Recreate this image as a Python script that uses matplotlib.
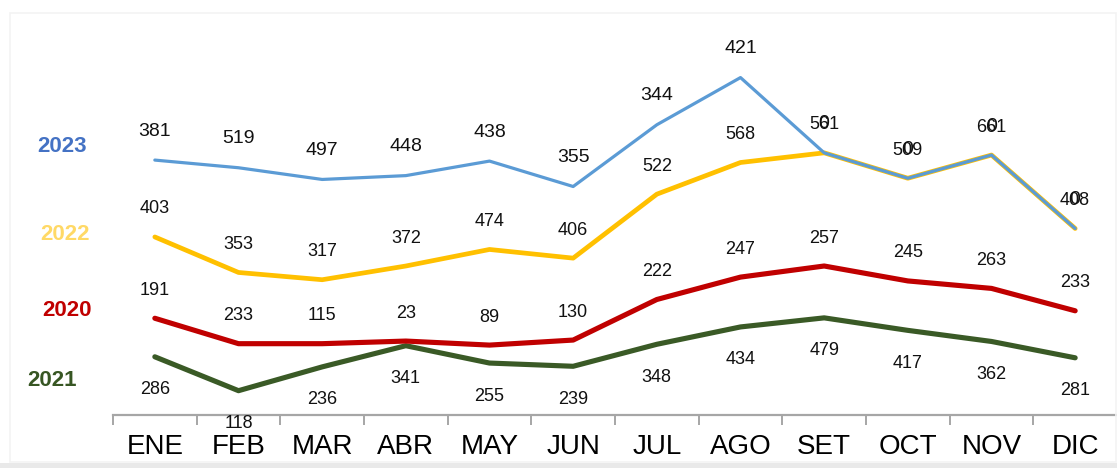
"""
Stacked line chart of monthly counts per year (2020-2023)
"""
import numpy as np
import matplotlib
matplotlib.use('Agg')
from matplotlib import pyplot as plt
from matplotlib.patches import Rectangle

months = ['ENE', 'FEB', 'MAR', 'ABR', 'MAY', 'JUN',
          'JUL', 'AGO', 'SET', 'OCT', 'NOV', 'DIC']
years = ['2021', '2020', '2022', '2023']  # stacking order, bottom first
values_2021 = [286, 118, 236, 341, 255, 239, 348, 434, 479, 417, 362, 281]
values_2020 = [191, 233, 115, 23, 89, 130, 222, 247, 257, 245, 263, 233]
values_2022 = [403, 353, 317, 372, 474, 406, 522, 568, 561, 509, 661, 408]
values_2023 = [381, 519, 497, 448, 438, 355, 344, 421, 0, 0, 0, 0]

FONT = ['Liberation Sans Narrow', 'Liberation Sans', 'DejaVu Sans']


def draw_chart(series):
    """
    Draws the stacked lines, data labels and year names

    @param series list of (year, values) from bottom to top
    """
    plt.rcParams['font.family'] = FONT
    fig = plt.figure(figsize=(11.17, 4.68), dpi=100)
    W, H = 1117, 468

    # faint frame and bottom shadow like the source slide
    fig.patches.append(Rectangle((10 / W, 6 / H), 1106 / W, 449 / H,
                                 transform=fig.transFigure, fill=False,
                                 edgecolor='#F3F3F3', lw=1.2))
    fig.patches.append(Rectangle((0, 0), 1, 5 / H, transform=fig.transFigure,
                                 facecolor='#E9E9E9', edgecolor='none'))

    ax = fig.add_axes([113 / W, (H - 414.5) / H, 1004 / W, 401.5 / H])
    ax.set_xlim(-0.5, 11.5)
    ax.set_ylim(0, 1990)
    x = np.arange(len(months))

    styles = {
        '2021': dict(color='#3A5A26', lw=3.7, off=-33, size=13),
        '2020': dict(color='#C00000', lw=3.7, off=28, size=13),
        '2022': dict(color='#FFC000', lw=3.4, off=28, size=13),
        '2023': dict(color='#5B9BD5', lw=2.3, off=29, size=14),
    }
    base = np.zeros(len(months))
    for year, vals in series:
        st = styles[year]
        top = base + np.array(vals)
        ax.plot(x, top, color=st['color'], lw=st['lw'],
                solid_joinstyle='round', solid_capstyle='round', clip_on=False)
        for xi, yi, v in zip(x, top, vals):
            ax.annotate(str(v), (xi, yi), xytext=(0, st['off']),
                        textcoords='offset pixels', ha='center', va='center',
                        fontsize=st['size'], color='#111111')
        base = top

    # year names on the left
    names = {'2023': ('#4472C4', 62, 146), '2022': ('#FFD966', 65, 234),
             '2020': ('#C00000', 67, 310), '2021': ('#375623', 52, 380)}
    for year, (col, px, py) in names.items():
        fig.text(px / W, 1 - py / H, year, color=col, fontsize=16,
                 fontweight='bold', ha='center', va='center')

    # category axis
    for side in ['top', 'right', 'left']:
        ax.spines[side].set_visible(False)
    ax.spines['bottom'].set_color('#A6A6A6')
    ax.spines['bottom'].set_linewidth(1.6)
    ax.set_yticks([])
    ax.set_xticks(np.arange(-0.5, 11.5, 1.0))
    ax.set_xticklabels([])
    ax.tick_params(axis='x', length=7, width=1.4, color='#A6A6A6')
    ax.set_xticks(x, minor=True)
    ax.set_xticklabels(months, minor=True, fontsize=20)
    ax.tick_params(axis='x', which='minor', length=0, pad=14)
    ax.patch.set_alpha(0)

    fig.savefig('out.png', dpi=100)


def main():
    """
    The main function
    """
    series = [('2021', values_2021), ('2020', values_2020),
              ('2022', values_2022), ('2023', values_2023)]
    draw_chart(series)


if __name__ == '__main__':
    main()
